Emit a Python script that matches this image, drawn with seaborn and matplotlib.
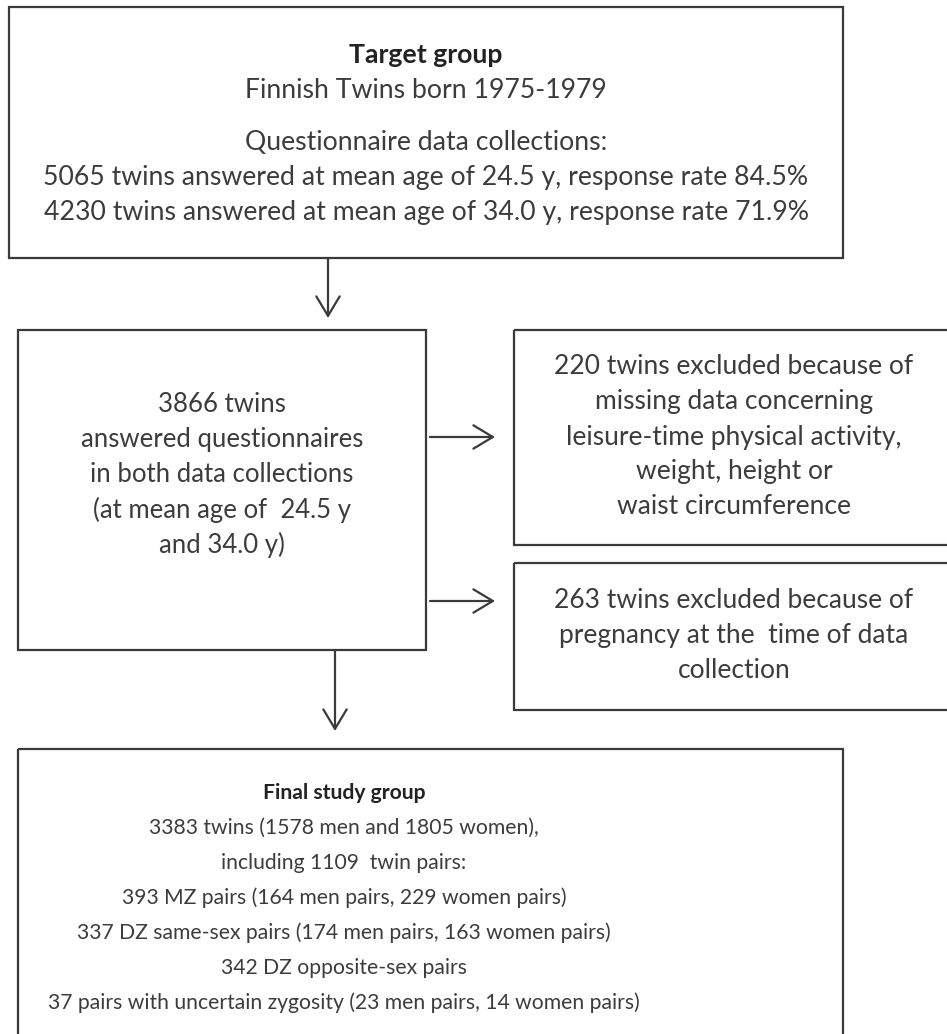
import matplotlib
matplotlib.use("Agg")
import matplotlib.pyplot as plt
from matplotlib.patches import Rectangle, FancyArrowPatch
import seaborn as sns

# Texts of the flowchart boxes
TARGET_TITLE = "Target group"
TARGET_LINES = [
    "Finnish Twins born 1975-1979",
    "",
    "Questionnaire data collections:",
    "5065 twins answered at mean age of 24.5 y, response rate 84.5%",
    "4230 twins answered at mean age of 34.0 y, response rate 71.9%",
]
BOTH_LINES = [
    "3866 twins",
    "answered questionnaires",
    "in both data collections",
    "(at mean age of  24.5 y",
    "and 34.0 y)",
]
EXCL1_LINES = [
    "220 twins excluded because of",
    "missing data concerning",
    "leisure-time physical activity,",
    "weight, height or",
    "waist circumference",
]
EXCL2_LINES = [
    "263 twins excluded because of",
    "pregnancy at the  time of data",
    "collection",
]
FINAL_TITLE = "Final study group"
FINAL_LINES = [
    "3383 twins (1578 men and 1805 women),",
    "including 1109  twin pairs:",
    "393 MZ pairs (164 men pairs, 229 women pairs)",
    "337 DZ same-sex pairs (174 men pairs, 163 women pairs)",
    "342 DZ opposite-sex pairs",
    "37 pairs with uncertain zygosity (23 men pairs, 14 women pairs)",
]

sns.set_theme(style="white")
plt.rcParams["font.family"] = ["Lato", "DejaVu Sans"]

W, H = 947, 1034
EDGE = "#3a3a3a"
TXT = "#3c3c3c"
STEP = 35

fig = plt.figure(figsize=(W / 100, H / 100), dpi=100)
ax = fig.add_axes([0, 0, 1, 1])
ax.set_xlim(0, W)
ax.set_ylim(H, 0)
ax.axis("off")


def box(x0, y0, x1, y1):
    ax.add_patch(Rectangle((x0, y0), x1 - x0, y1 - y0, fill=False,
                           edgecolor=EDGE, linewidth=1.6, clip_on=True))


def lines(xc, y0, items, fs, title=None):
    y = y0
    if title:
        ax.text(xc, y, title, ha="center", va="center", fontsize=fs,
                fontweight="bold", color="#222222")
        y += STEP
    for t in items:
        if t:
            ax.text(xc, y, t, ha="center", va="center", fontsize=fs, color=TXT)
            y += STEP
        else:
            y += STEP * 0.5


def arrow(p0, p1):
    ax.add_patch(FancyArrowPatch(p0, p1, arrowstyle="->,head_length=0.7,head_width=0.42",
                                 mutation_scale=20, color=EDGE, linewidth=1.6,
                                 shrinkA=0, shrinkB=0))


# boxes
box(9, 7, 843, 258)
box(18, 330, 426, 650)
box(514, 330, 960, 545)
box(514, 563, 960, 710)
box(18, 749, 843, 1045)

# arrows
arrow((328, 258), (328, 318))
arrow((430, 437), (495, 437))
arrow((430, 601), (495, 601))
arrow((335, 650), (335, 731))

# texts
lines(426, 55, TARGET_LINES, 19.2, TARGET_TITLE)
lines(222, 405, BOTH_LINES, 18.5)
lines(734, 367, EXCL1_LINES, 19)
lines(734, 600, EXCL2_LINES, 19)
lines(344, 793, FINAL_LINES, 15.2, FINAL_TITLE)

fig.savefig("out.png", dpi=100, facecolor="white")
